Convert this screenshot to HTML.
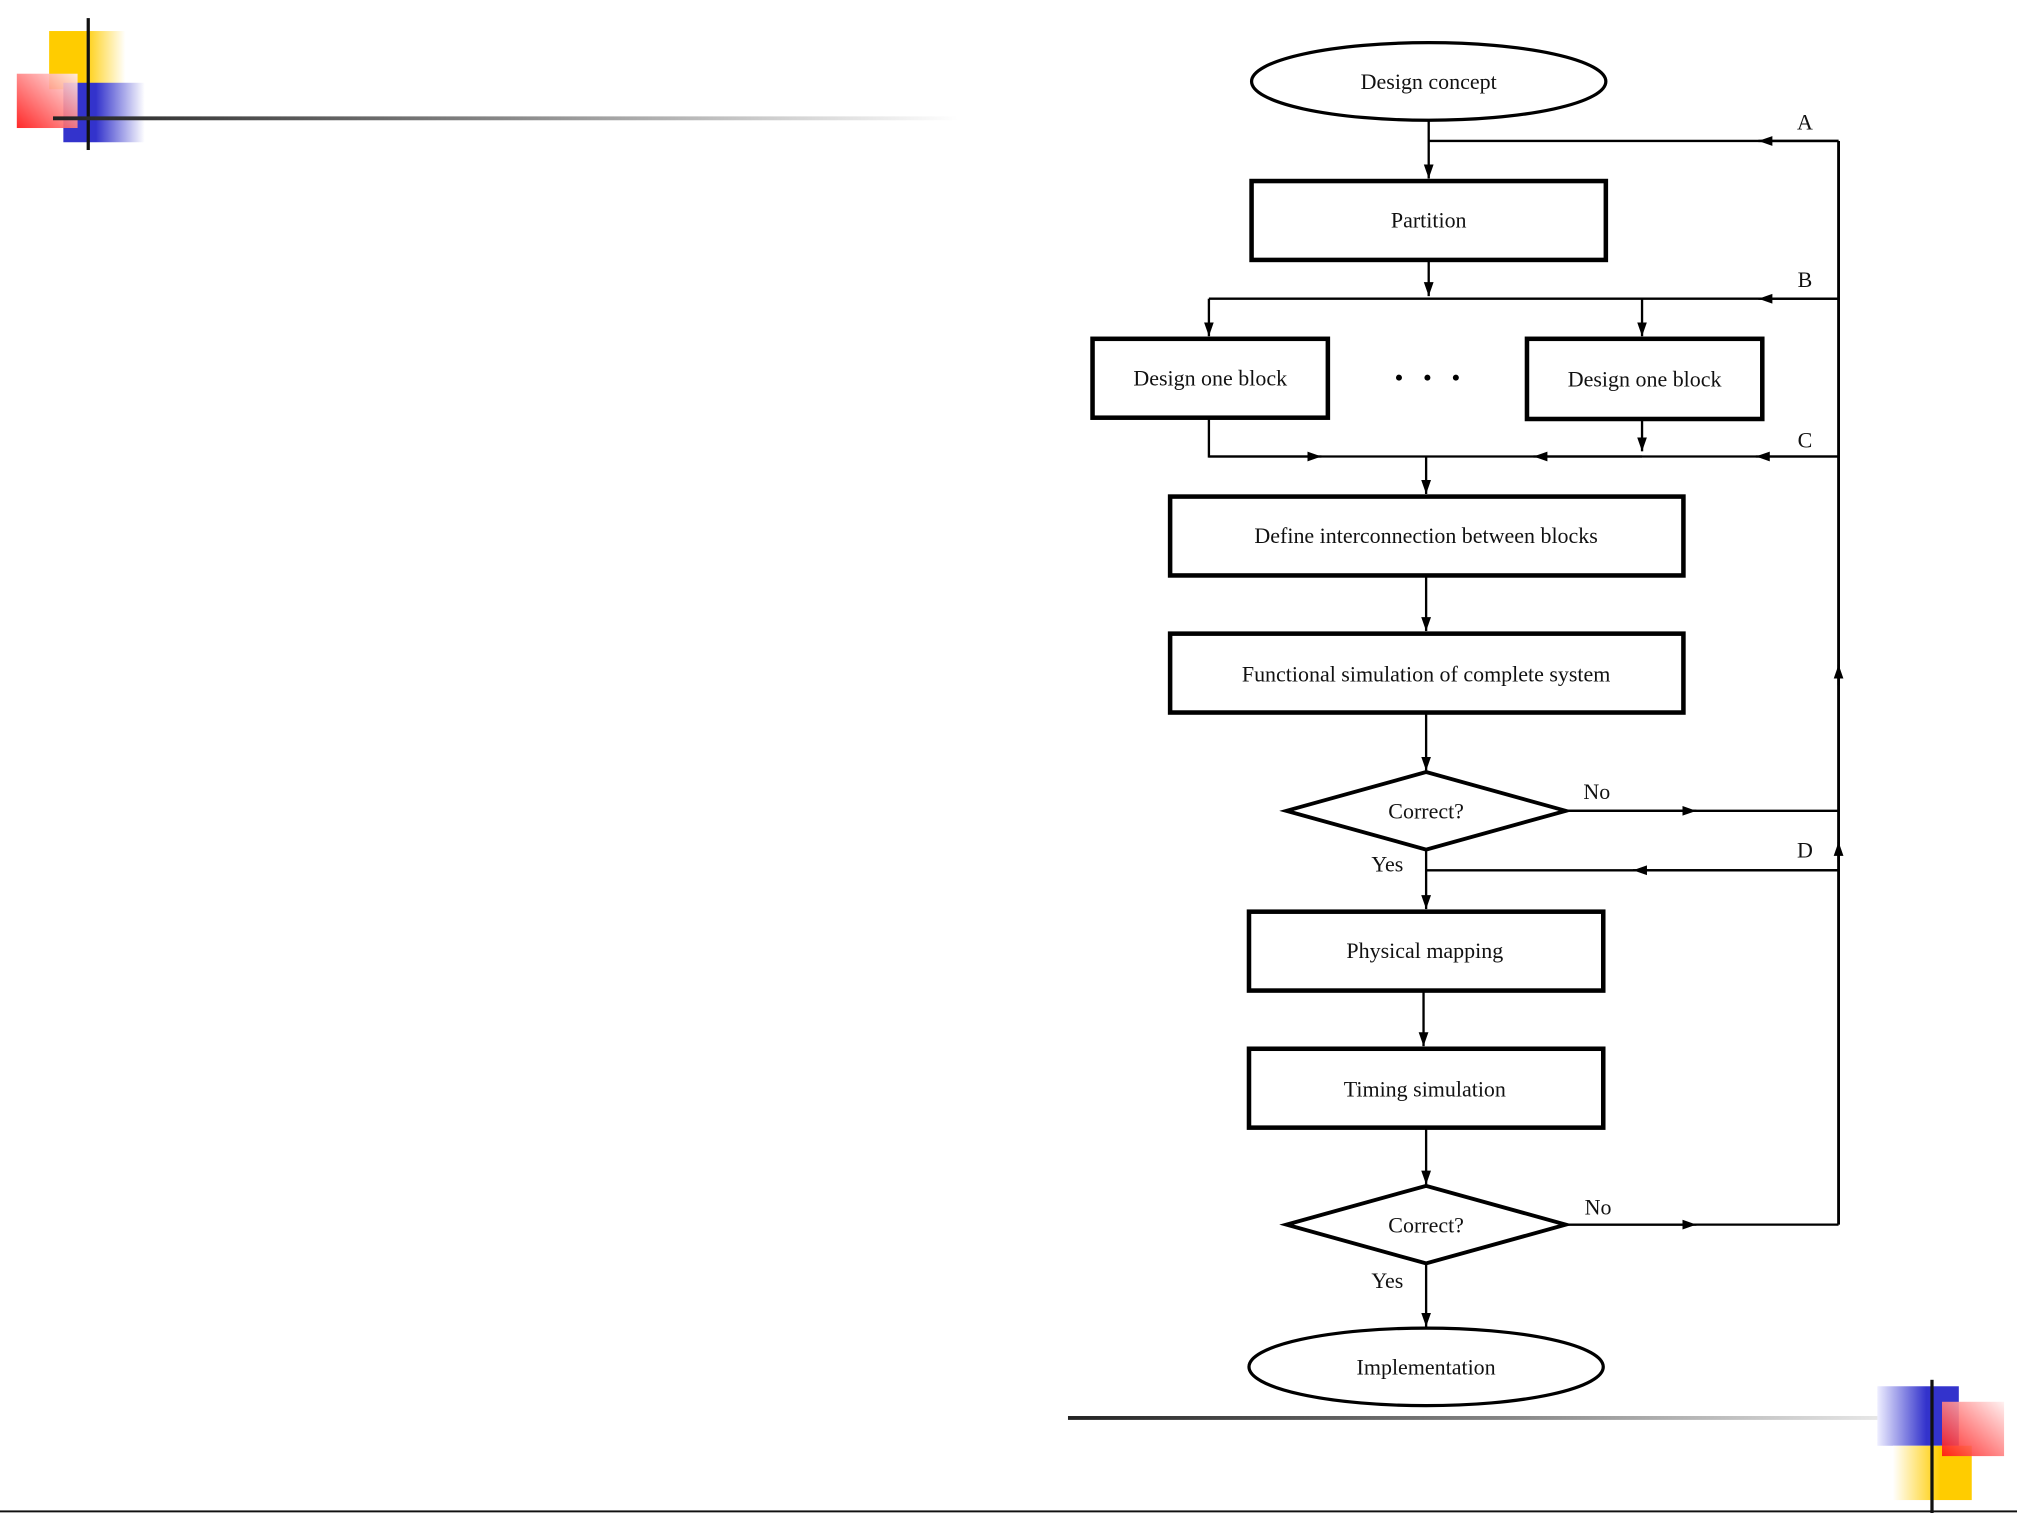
<!DOCTYPE html>
<html><head><meta charset="utf-8"><style>
html,body{margin:0;padding:0;background:#fff;}
svg{display:block;}
text{font-family:"Liberation Serif",serif;fill:#111;}
</style></head><body>
<svg width="2017" height="1513" viewBox="0 0 1560 1170" preserveAspectRatio="none" xmlns="http://www.w3.org/2000/svg">
<defs>
<linearGradient id="hl" x1="0" x2="1"><stop offset="0" stop-color="#222"/><stop offset="0.5" stop-color="#888"/><stop offset="1" stop-color="#fff"/></linearGradient>
<linearGradient id="yf" x1="0" x2="1"><stop offset="0.45" stop-color="#ffcc00"/><stop offset="1" stop-color="#fff"/></linearGradient>
<linearGradient id="bf" x1="0" x2="1"><stop offset="0.4" stop-color="#3333cc"/><stop offset="1" stop-color="#fff"/></linearGradient>
<linearGradient id="bfr" x1="1" x2="0"><stop offset="0.4" stop-color="#3333cc"/><stop offset="1" stop-color="#eef"/></linearGradient>
<linearGradient id="yfr" x1="1" x2="0"><stop offset="0.4" stop-color="#ffcc00"/><stop offset="1" stop-color="#fff"/></linearGradient>
<linearGradient id="rf" x1="0" y1="1" x2="1" y2="0"><stop offset="0" stop-color="#ff1111"/><stop offset="1" stop-color="#fff0f0"/></linearGradient>
<marker id="ar" viewBox="0 0 10 10" refX="10" refY="5" markerWidth="6" markerHeight="6" orient="auto"><path d="M0,1.5 L10,5 L0,8.5z" fill="#000"/></marker>
</defs>
<rect x="38" y="24" width="59" height="45" fill="url(#yf)"/>
<rect x="49" y="64" width="63" height="46" fill="url(#bf)"/>
<rect x="13" y="57" width="47" height="42" fill="url(#rf)" opacity="0.9"/>
<rect x="67" y="14" width="2.5" height="102" fill="#111"/>
<rect x="41" y="90" width="700" height="3" fill="url(#hl)"/>
<rect x="826" y="1095" width="697" height="3" fill="url(#hl)"/>
<rect x="1452" y="1072" width="63" height="46" fill="url(#bfr)"/>
<rect x="1464" y="1118" width="61" height="42" fill="url(#yfr)"/>
<rect x="1502" y="1084" width="48" height="42" fill="url(#rf)" opacity="0.9"/>
<rect x="1493" y="1067" width="2.5" height="103" fill="#111"/>
<rect x="0" y="1168" width="1560" height="1.5" fill="#111"/>

<g stroke="#000" fill="none" stroke-width="2">
<ellipse cx="1105" cy="63" rx="137" ry="30" stroke-width="2.5"/>
<rect x="968" y="140" width="274" height="61" stroke-width="3.5"/>
<rect x="845" y="262" width="182" height="61" stroke-width="3.5"/>
<rect x="1181" y="262" width="182" height="62" stroke-width="3.5"/>
<rect x="905" y="384" width="397" height="61" stroke-width="3.5"/>
<rect x="905" y="490" width="397" height="61" stroke-width="3.5"/>
<polygon points="995,627 1103,597 1211,627 1103,657" stroke-width="3"/>
<rect x="966" y="705" width="274" height="61" stroke-width="3.5"/>
<rect x="966" y="811" width="274" height="61" stroke-width="3.5"/>
<polygon points="995,947 1103,917 1211,947 1103,977" stroke-width="3"/>
<ellipse cx="1103" cy="1057" rx="137" ry="30" stroke-width="2.5"/>

<g stroke-width="1.8">
<line x1="1105" y1="93" x2="1105" y2="138" marker-end="url(#ar)"/>
<line x1="1422" y1="109" x2="1105" y2="109"/>
<line x1="1422" y1="109" x2="1360" y2="109" marker-end="url(#ar)"/>
<line x1="1422" y1="109" x2="1422" y2="947" stroke-width="2.2"/>
<line x1="1105" y1="201" x2="1105" y2="229" marker-end="url(#ar)"/>
<line x1="935" y1="231" x2="1422" y2="231"/>
<line x1="1422" y1="231" x2="1360" y2="231" marker-end="url(#ar)"/>
<line x1="935" y1="231" x2="935" y2="260" marker-end="url(#ar)"/>
<line x1="1270" y1="231" x2="1270" y2="260" marker-end="url(#ar)"/>
<polyline points="935,323 935,353 1422,353"/>
<line x1="935" y1="353" x2="1022" y2="353" marker-end="url(#ar)"/>
<line x1="1270" y1="353" x2="1186" y2="353" marker-end="url(#ar)"/>
<line x1="1422" y1="353" x2="1358" y2="353" marker-end="url(#ar)"/>
<line x1="1270" y1="325" x2="1270" y2="349" marker-end="url(#ar)"/>
<line x1="1103" y1="353" x2="1103" y2="382" marker-end="url(#ar)"/>
<line x1="1103" y1="445" x2="1103" y2="488" marker-end="url(#ar)"/>
<line x1="1103" y1="551" x2="1103" y2="596" marker-end="url(#ar)"/>
<line x1="1211" y1="627" x2="1422" y2="627"/>
<line x1="1211" y1="627" x2="1312" y2="627" marker-end="url(#ar)"/>
<line x1="1103" y1="657" x2="1103" y2="703" marker-end="url(#ar)"/>
<line x1="1103" y1="673" x2="1422" y2="673"/>
<line x1="1422" y1="673" x2="1263" y2="673" marker-end="url(#ar)"/>
<line x1="1422" y1="530" x2="1422" y2="514" marker-end="url(#ar)"/>
<line x1="1422" y1="667" x2="1422" y2="651" marker-end="url(#ar)"/>
<line x1="1101" y1="766" x2="1101" y2="809" marker-end="url(#ar)"/>
<line x1="1103" y1="872" x2="1103" y2="916" marker-end="url(#ar)"/>
<line x1="1211" y1="947" x2="1422" y2="947"/>
<line x1="1211" y1="947" x2="1312" y2="947" marker-end="url(#ar)"/>
<line x1="1103" y1="977" x2="1103" y2="1026" marker-end="url(#ar)"/>
</g>
</g>
<g fill="#000"><circle cx="1082" cy="292" r="2.3"/><circle cx="1104" cy="292" r="2.3"/><circle cx="1126" cy="292" r="2.3"/></g>

<g font-size="17" text-anchor="middle">
<text x="1105" y="69">Design concept</text>
<text x="1105" y="176">Partition</text>
<text x="936" y="298">Design one block</text>
<text x="1272" y="299">Design one block</text>
<text x="1103" y="420">Define interconnection between blocks</text>
<text x="1103" y="527">Functional simulation of complete system</text>
<text x="1103" y="633">Correct?</text>
<text x="1102" y="741">Physical mapping</text>
<text x="1102" y="848">Timing simulation</text>
<text x="1103" y="953">Correct?</text>
<text x="1103" y="1063">Implementation</text>
<text x="1396" y="100">A</text>
<text x="1396" y="222">B</text>
<text x="1396" y="346">C</text>
<text x="1396" y="663">D</text>
<text x="1235" y="618">No</text>
<text x="1236" y="939">No</text>
<text x="1073" y="674">Yes</text>
<text x="1073" y="996">Yes</text>
</g>
</svg>
</body></html>
